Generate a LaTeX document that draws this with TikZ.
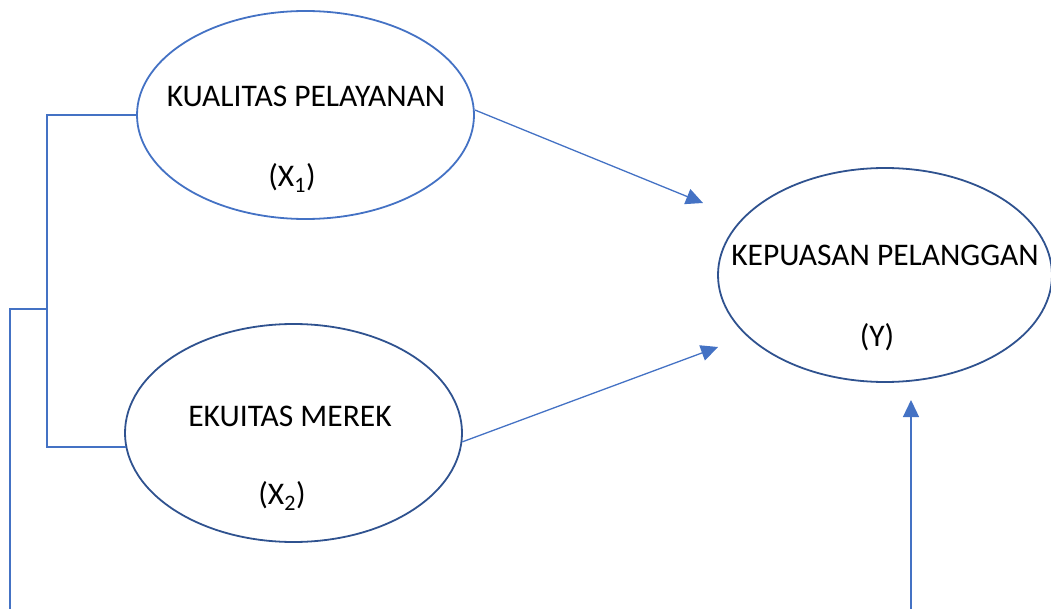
\documentclass[tikz,border=0pt]{standalone}
\usepackage{fontspec}
\setmainfont{Carlito}
\usepackage{xcolor}
\usetikzlibrary{arrows.meta,positioning,shapes.geometric}

\definecolor{linkblue}{HTML}{4472C4}
\definecolor{rimblue}{HTML}{2F528F}

\tikzset{
  varbox/.style={draw=rimblue, line width=1.8pt, ellipse, inner sep=0pt},
  varname/.style={font=\fontsize{31.5}{31.5}\selectfont, inner sep=0pt},
  link/.style={draw=linkblue, line width=1.3pt},
  linkto/.style={link, -{Triangle[length=17pt,width=16pt]}}
}

\begin{document}
\begin{tikzpicture}[x=1pt,y=-1pt]
\useasboundingbox (0,0) rectangle (1051,609);

% the three variables
\node at (305.5,115) [varbox, draw=linkblue, minimum width=337pt, minimum height=208pt] (x1) {};
\node at (293.5,433) [varbox, minimum width=337pt, minimum height=218pt] (x2) {};
\node at (885,275) [varbox, minimum width=334pt, minimum height=214pt] (y) {};

\node at (306,96) [varname] (x1name) {KUALITAS PELAYANAN};
\node at (292,178) [varname] (x1sym) {(X\textsubscript{1})};
\node at (290,416) [varname] (x2name) {EKUITAS MEREK};
\node at (282,496) [varname] (x2sym) {(X\textsubscript{2})};
\node at (885,255) [varname] (yname) {KEPUASAN PELANGGAN};
\node at (877,337) [varname] (ysym) {(Y)};

% bracket on the left
\coordinate (b1) at (47,115);
\coordinate (b2) at (47,447);
\coordinate (x2in) at (126,447);
\coordinate (mid) at (47,309);
\coordinate (corner) at (10,309);
\coordinate (low) at (10,609);
\draw [link] (x1.west) -- (b1) -- (b2) -- (x2in);
\draw [link] (mid) -- (corner) -- (low);

% arrows towards Y
\coordinate (t1) at (703,203);
\coordinate (t2) at (718,347);
\coordinate (foot) at (911,609);
\coordinate (t3) at (911,400);
\draw [linkto] (x1.east) ++(0,-5) -- (t1);
\draw [linkto] (x2.-3) -- (t2);
\draw [linkto] (foot) -- (t3);
\end{tikzpicture}
\end{document}
